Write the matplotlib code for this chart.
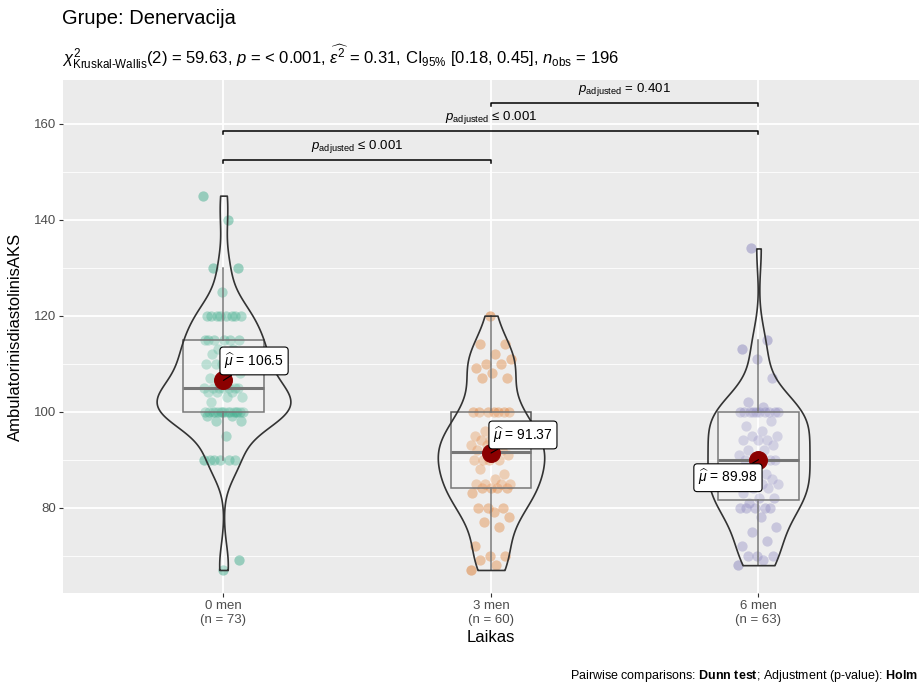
import numpy as np
import matplotlib
matplotlib.use("Agg")
import matplotlib.pyplot as plt
from matplotlib import cbook, mlab
from matplotlib.ticker import MultipleLocator

plt.rcParams['font.family'] = ['Liberation Sans', 'DejaVu Sans']
plt.rcParams['mathtext.fontset'] = 'custom'
plt.rcParams['mathtext.rm'] = 'Liberation Sans'
plt.rcParams['mathtext.it'] = 'Liberation Sans:italic'
plt.rcParams['mathtext.bf'] = 'Liberation Sans:bold'

# duomenys (nuskaityta is paveikslo)
groups = ['0 men', '3 men', '6 men']
g0 = [145, 140, 130, 130, 125, 120, 120, 120, 120, 120, 120, 120, 120, 115, 115,
      115, 115, 115, 115, 113, 113, 112, 112, 112, 111, 110, 110, 110, 110, 108,
      107, 107, 105, 105, 105, 105, 105, 105, 105, 104, 104, 104, 103, 103, 102,
      100, 100, 100, 100, 100, 100, 100, 100, 100, 100, 100, 100, 100, 100, 100,
      99, 99, 98, 98, 95, 90, 90, 90, 90, 90, 90, 69, 67]
g3 = [67, 68, 69, 70, 70, 72, 76, 77, 78, 79, 80, 80, 80, 83, 84, 84, 84, 84, 85,
      85, 85, 85, 86, 88, 87, 90, 90, 90, 90, 91, 92, 92, 92, 93, 93, 93, 94, 94,
      94, 95, 95, 96, 100, 100, 100, 100, 100, 100, 100, 107, 107, 108, 109, 110,
      110, 111, 112, 114, 114, 120]
g6 = [68, 69, 70, 70, 70, 72, 73, 75, 76, 78, 80, 80, 80, 80, 80, 81, 82, 82, 83,
      84, 84, 85, 85, 85, 86, 86, 86, 87, 88, 90, 90, 90, 90, 90, 91, 92, 92, 93,
      94, 94, 94, 95, 95, 96, 97, 98, 100, 100, 100, 100, 100, 100, 100, 100, 100,
      100, 101, 102, 107, 111, 113, 115, 134]
data = [np.array(g0, float), np.array(g3, float), np.array(g6, float)]
colors = ['#1B9E77', '#D95F02', '#7570B3']

# poriniai palyginimai
pairs = [(0, 1), (0, 2), (1, 2)]
pair_labels = [r'$p_{\mathrm{adjusted}}$ ≤ 0.001', r'$p_{\mathrm{adjusted}}$ ≤ 0.001',
               r'$p_{\mathrm{adjusted}}$ = 0.401']
pair_y = [152.4, 158.5, 164.3]

subtitle = (r'$\chi^2_{\mathrm{Kruskal\text{-}Wallis}}$(2) = 59.63, $p$ = < 0.001, '
            r'$\widehat{\epsilon^2}$ = 0.31, CI$_{\mathrm{95\%}}$ [0.18, 0.45], '
            r'$n_{\mathrm{obs}}$ = ' + str(sum(len(d) for d in data)))

pos = np.arange(1, len(groups) + 1)

fig = plt.figure(figsize=(9.2, 6.84), dpi=100)
ax = fig.add_axes([63/920, 1 - 593/684, 856/920, 513/684])
ax.set_facecolor('#EBEBEB')
for s in ax.spines.values():
    s.set_visible(False)

# taskai (deterministinis isbarstymas)
for i, d in enumerate(data):
    jit = ((np.arange(len(d)) * 0.618034) % 1 - 0.5) * 0.15
    ax.scatter(pos[i] + jit, d, s=55, color=colors[i], alpha=0.4, lw=0, zorder=2)

# boxplot
stats = cbook.boxplot_stats(data, whis=1.5)
bp = ax.bxp(stats, positions=pos, widths=0.3, showcaps=False, showfliers=False,
            patch_artist=True, manage_ticks=False, zorder=3,
            boxprops=dict(facecolor=(1, 1, 1, 0.2), edgecolor='#555555', lw=1.1),
            whiskerprops=dict(color='#555555', lw=1.1),
            medianprops=dict(color='#555555', lw=2.2))


# violin su nrd0 plociu, "area" skale
def nrd0(x):
    iqr = np.subtract(*np.percentile(x, [75, 25]))
    lo = min(np.std(x, ddof=1), iqr / 1.34)
    return 0.9 * lo * len(x) ** (-0.2)


def kde(x, coords):
    k = mlab.GaussianKDE(x, bw_method=nrd0(x) / np.std(x, ddof=1))
    return k.evaluate(coords)


vstats = cbook.violin_stats(data, kde, points=512)
vmax = [v['vals'].max() for v in vstats]
widths = [0.5 * m / max(vmax) for m in vmax]
vp = ax.violin(vstats, positions=pos, widths=widths, showmeans=False,
               showextrema=False, showmedians=False)
for b in vp['bodies']:
    b.set_facecolor((1, 1, 1, 0.2))
    b.set_edgecolor('#333333')
    b.set_linewidth(1.2)
    b.set_alpha(None)
    b.set_zorder(4)

# vidurkiai
offsets = [(22, 14), (23, 13), (-22, -13)]
for i, d in enumerate(data):
    m = d.mean()
    ax.scatter(pos[i], m, s=160, color='#8B0000', zorder=6)
    ax.annotate(r'$\widehat{\mu}$ = ' + f'{m:.4g}', xy=(pos[i], m), xytext=offsets[i],
                textcoords='offset points', ha='center', va='center', fontsize=10,
                zorder=7,
                bbox=dict(boxstyle='round,pad=0.3,rounding_size=0.25', fc='white',
                          ec='black', lw=0.8),
                arrowprops=dict(arrowstyle='-', color='black', lw=0.8,
                                shrinkA=0, shrinkB=0))

# skliaustai
for (a, b), lab, y in zip(pairs, pair_labels, pair_y):
    ax.plot([pos[a], pos[a], pos[b], pos[b]], [y - 0.6, y, y, y - 0.6],
            color='black', lw=1.1, zorder=5)
    ax.text((pos[a] + pos[b]) / 2, y + 1.0, lab, ha='center', va='bottom',
            fontsize=9.5, zorder=5)

ax.set_xlim(0.4, 3.6)
ax.set_ylim(62.2, 169.1)
ax.yaxis.set_major_locator(MultipleLocator(20))
ax.yaxis.set_minor_locator(MultipleLocator(10))
ax.set_xticks(pos)
ax.set_xticklabels([f'{g}\n(n = {len(d)})' for g, d in zip(groups, data)])
ax.grid(which='major', color='white', lw=1.3)
ax.grid(which='minor', axis='y', color='white', lw=0.6)
ax.set_axisbelow(True)
ax.tick_params(which='major', length=3, width=0.8, color='#333333',
               labelcolor='#4D4D4D', labelsize=9.5, pad=2)
ax.tick_params(which='minor', length=0)
ax.set_xlabel('Laikas', fontsize=12, labelpad=3)
ax.set_ylabel('AmbulatorinisdiastolinisAKS', fontsize=12, labelpad=8)

fig.text(62/920, 1 - 19/684, 'Grupe: Denervacija', fontsize=14.5, va='center')
fig.text(62/920, 1 - 57/684, subtitle, fontsize=12, va='center')
fig.text(918/920, 1 - 676/684,
         r'Pairwise comparisons: $\mathbf{Dunn\ test}$; Adjustment (p-value): $\mathbf{Holm}$',
         ha='right', va='center', fontsize=9)

fig.savefig('out.png', dpi=100)
